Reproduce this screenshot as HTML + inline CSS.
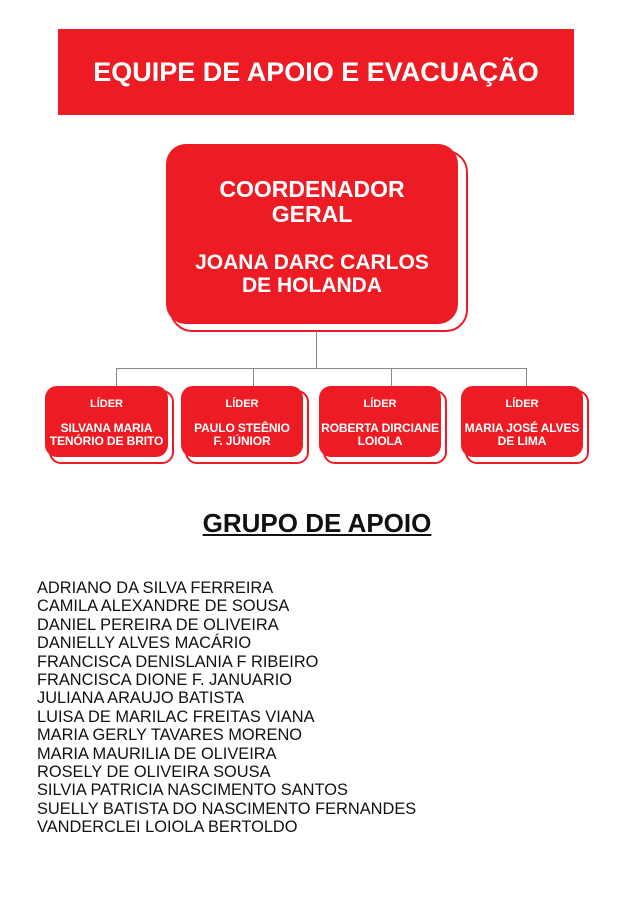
<!DOCTYPE html>
<html><head><meta charset="utf-8"><style>
body{margin:0;width:638px;height:902px;background:#fff;position:relative;font-family:"Liberation Sans",Arial,sans-serif;overflow:hidden}
.a{position:absolute}
.hdr{left:58px;top:29px;width:516px;height:86px;background:#ed1c24;color:#fff;font-weight:bold;font-size:27px;text-align:center;line-height:86px}
.bk{border:2px solid #ed1c24;background:#fff;box-sizing:border-box}
.fr{background:#ed1c24;color:#fff;font-weight:bold;text-align:center}
.ln{background:#888}
.s{font-size:11px;line-height:13px}
.n{font-size:12px;letter-spacing:-0.1px}
.list{left:37px;top:579px;font-size:16.4px;line-height:18.4px;color:#111}
</style></head><body>
<div class="a hdr">EQUIPE DE APOIO E EVACUAÇÃO</div>

<div class="a bk" style="left:170px;top:150px;width:298px;height:182px;border-radius:22px"></div>
<div class="a fr" style="left:166px;top:144px;width:292px;height:180px;border-radius:20px;padding-top:33px;box-sizing:border-box"><div style="font-size:23px;line-height:25px">COORDENADOR<br>GERAL</div><div style="height:24px"></div><div style="font-size:21px;line-height:23px">JOANA DARC CARLOS<br>DE HOLANDA</div></div>

<div class="a ln" style="left:316px;top:331px;width:1px;height:37px"></div>
<div class="a ln" style="left:116px;top:368px;width:411px;height:1px"></div>
<div class="a ln" style="left:116px;top:368px;width:1px;height:18px"></div>
<div class="a ln" style="left:253px;top:368px;width:1px;height:18px"></div>
<div class="a ln" style="left:391px;top:368px;width:1px;height:18px"></div>
<div class="a ln" style="left:526px;top:368px;width:1px;height:18px"></div>

<div class="a bk" style="left:49px;top:390px;width:125px;height:74px;border-radius:12px"></div>
<div class="a fr s" style="left:45px;top:386px;width:123px;height:71px;border-radius:12px;padding-top:12px;box-sizing:border-box">LÍDER<div style="height:11px"></div><div class="n">SILVANA MARIA<br>TENÓRIO DE BRITO</div></div>
<div class="a bk" style="left:185px;top:390px;width:124px;height:74px;border-radius:12px"></div>
<div class="a fr s" style="left:181px;top:386px;width:122px;height:71px;border-radius:12px;padding-top:12px;box-sizing:border-box">LÍDER<div style="height:11px"></div><div class="n">PAULO STEÊNIO<br>F. JÚNIOR</div></div>
<div class="a bk" style="left:323px;top:390px;width:124px;height:74px;border-radius:12px"></div>
<div class="a fr s" style="left:319px;top:386px;width:122px;height:71px;border-radius:12px;padding-top:12px;box-sizing:border-box">LÍDER<div style="height:11px"></div><div class="n">ROBERTA DIRCIANE<br>LOIOLA</div></div>
<div class="a bk" style="left:465px;top:390px;width:124px;height:74px;border-radius:12px"></div>
<div class="a fr s" style="left:461px;top:386px;width:122px;height:71px;border-radius:12px;padding-top:12px;box-sizing:border-box">LÍDER<div style="height:11px"></div><div class="n">MARIA JOSÉ ALVES<br>DE LIMA</div></div>

<div class="a" style="left:0;width:634px;top:508px;text-align:center;font-weight:bold;font-size:26px;text-decoration:underline;color:#111">GRUPO DE APOIO</div>

<div class="a list">ADRIANO DA SILVA FERREIRA<br>CAMILA ALEXANDRE DE SOUSA<br>DANIEL PEREIRA DE OLIVEIRA<br>DANIELLY ALVES MACÁRIO<br>FRANCISCA DENISLANIA F RIBEIRO<br>FRANCISCA DIONE F. JANUARIO<br>JULIANA ARAUJO BATISTA<br>LUISA DE MARILAC FREITAS VIANA<br>MARIA GERLY TAVARES MORENO<br>MARIA MAURILIA DE OLIVEIRA<br>ROSELY DE OLIVEIRA SOUSA<br>SILVIA PATRICIA NASCIMENTO SANTOS<br>SUELLY BATISTA DO NASCIMENTO FERNANDES<br>VANDERCLEI LOIOLA BERTOLDO</div>
</body></html>
